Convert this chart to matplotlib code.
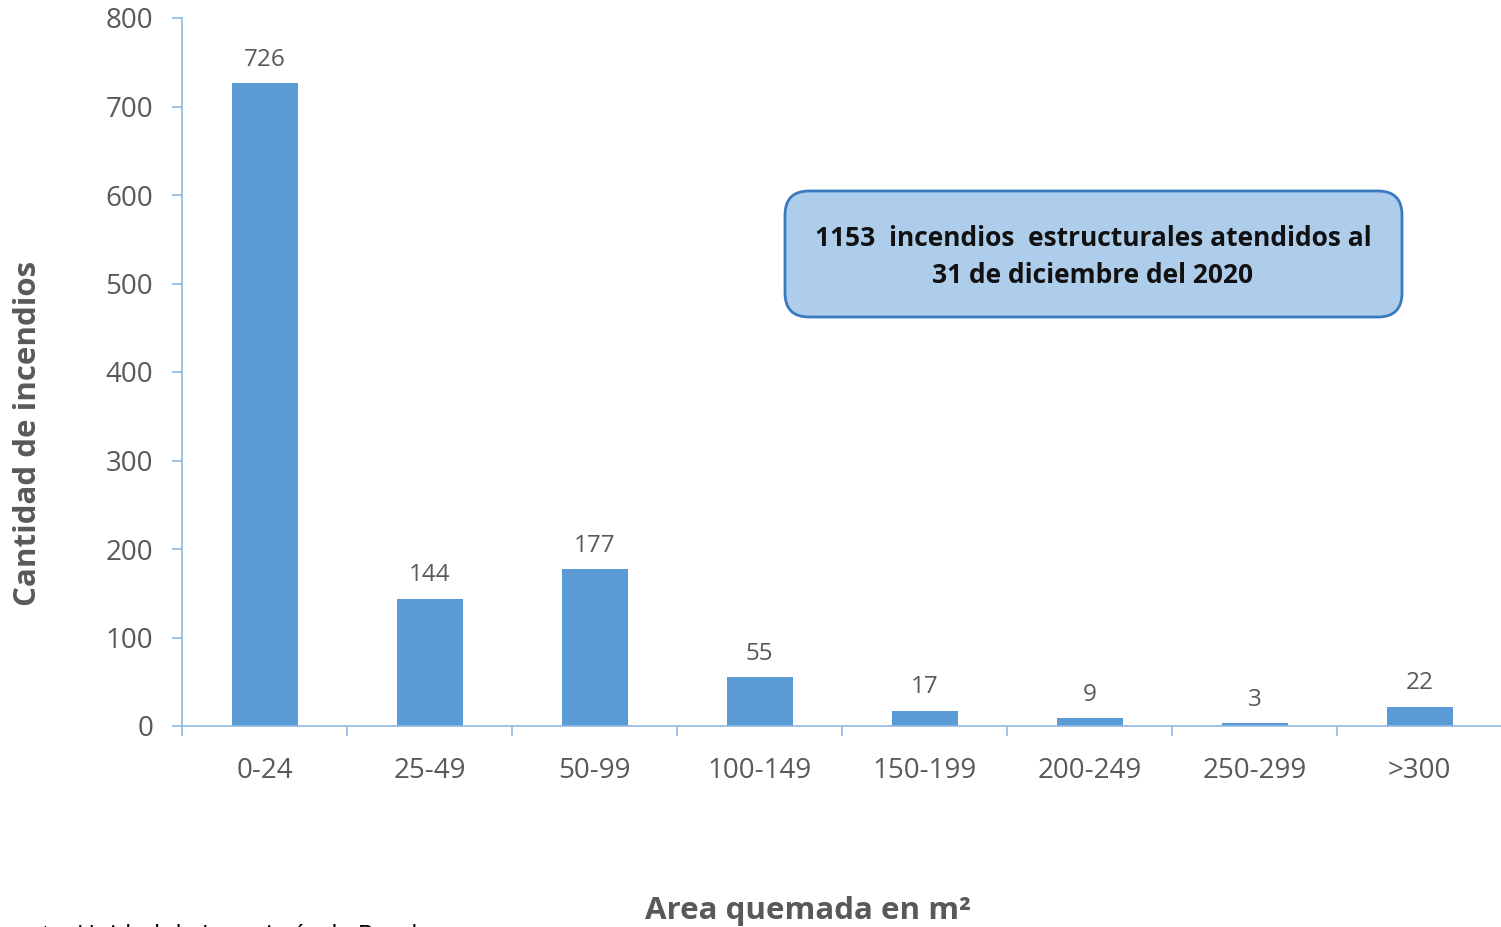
import matplotlib
matplotlib.use("Agg")
import matplotlib.pyplot as plt
from matplotlib.patches import FancyBboxPatch
import numpy as np

categories = ["0-24", "25-49", "50-99", "100-149", "150-199", "200-249", "250-299", ">300"]
values = [726, 144, 177, 55, 17, 9, 3, 22]
yticks = [0, 100, 200, 300, 400, 500, 600, 700, 800]

plt.rcParams['font.family'] = ['Open Sans', 'DejaVu Sans']

W, H = 1501, 927
fig = plt.figure(figsize=(W / 100, H / 100), dpi=100)
ax = fig.add_axes([182 / W, 1 - 726 / H, (1502 - 182) / W, (726 - 18) / H])

bar_color = "#5B9BD5"
axis_color = "#8FB8E0"
text_gray = "#595959"

x = np.arange(len(categories))
ax.bar(x, values, width=0.4, color=bar_color, zorder=2)
for xi, v in zip(x, values):
    ax.text(xi, v + 13, str(v), ha="center", va="bottom", fontsize=17.5, color=text_gray)

ax.set_xlim(-0.5, len(categories) - 0.5)
ax.set_ylim(0, 800)
ax.set_yticks(yticks)
ax.set_yticklabels([str(t) for t in yticks], fontsize=20, color=text_gray)
ax.set_xticks(x)
ax.set_xticklabels(categories, fontsize=20, color=text_gray)
ax.set_xticks(np.arange(-0.5, len(categories)), minor=True)
ax.tick_params(axis="x", which="major", length=0, pad=22)
ax.tick_params(axis="x", which="minor", length=7.2, color=axis_color, width=1.2)
ax.tick_params(axis="y", which="major", length=7.2, color=axis_color, width=1.2, pad=13.5)

for s in ["top", "right"]:
    ax.spines[s].set_visible(False)
for s in ["left", "bottom"]:
    ax.spines[s].set_color(axis_color)
    ax.spines[s].set_linewidth(1.2)

fig.text(28 / W, 1 - 433 / H, "Cantidad de incendios", rotation=90, ha="center", va="center",
         fontsize=22.5, fontweight="bold", color=text_gray)
fig.text(808 / W, 1 - 911 / H, "Area quemada en m²", ha="center", va="center",
         fontsize=22.5, fontweight="bold", color=text_gray)
fig.text(-15 / W, 1 - 943 / H, "Fuente: Unidad de Ingeniería de Bomberos", ha="left", va="baseline",
         fontsize=17.7, color="#000000")

box = FancyBboxPatch((785 / 100, (H - 317) / 100), (1402 - 785) / 100, (317 - 191) / 100,
                     boxstyle="round,pad=0,rounding_size=0.24", transform=fig.dpi_scale_trans,
                     facecolor="#ADCDEB", edgecolor="#3A7BC0", linewidth=2)
fig.patches.append(box)
fig.text(1093 / W, 1 - 257 / H, "1153  incendios  estructurales atendidos al\n31 de diciembre del 2020",
         ha="center", va="center", fontsize=19, fontweight="bold", color="#111111", linespacing=1.5)

fig.savefig("out.png", dpi=100)
